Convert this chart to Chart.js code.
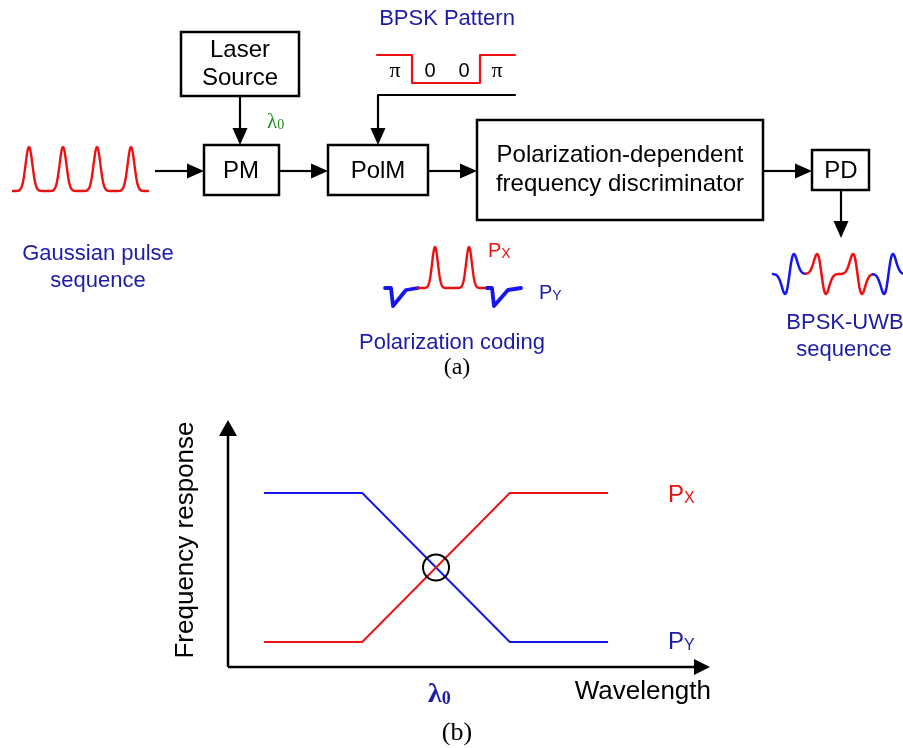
<!DOCTYPE html>
<html>
<head>
<meta charset="utf-8">
<script src="https://cdn.jsdelivr.net/npm/chart.js@4.4.0/dist/chart.umd.min.js"></script>
<style>
  html, body { margin: 0; padding: 0; background: #fff; }
  canvas { display: block; }
</style>
</head>
<body>
<canvas id="diagram" width="903" height="748"></canvas>
<script>
// Panel (b): frequency response of the discriminator
const wavelength = [0, 1, 2.5, 3.5];
const responsePx = [0, 0, 1, 1];
const responsePy = [1, 1, 0, 0];
const lambda0 = 1.75; // where the two responses cross

// Panel (a) sketches
const bpskPattern = ["π", "0", "0", "π"];
const pulseCount = 4;
const uwbPolarity = [-1, 1, 1, -1];

const RED = "#ee1111";
const BLUE = "#1515ee";
const NAVY = "#1c1ca6";
const GREEN = "#1c8c1c";
const SANS = "'Liberation Sans', Arial, sans-serif";
const SERIF = "'Liberation Serif', 'Times New Roman', serif";

function text(ctx, str, x, y, size, color, opts = {}) {
  ctx.save();
  ctx.font = `${opts.weight || "normal"} ${size}px ${opts.family || SANS}`;
  ctx.fillStyle = color;
  ctx.textAlign = opts.align || "center";
  ctx.textBaseline = "middle";
  ctx.fillText(str, x, y);
  ctx.restore();
}

function subLabel(ctx, main, sub, x, y, size, subSize, color, family = SANS, weight = "normal") {
  ctx.save();
  ctx.fillStyle = color;
  ctx.textAlign = "left";
  ctx.textBaseline = "alphabetic";
  ctx.font = `${weight} ${size}px ${family}`;
  const base = y + size * 0.36;
  ctx.fillText(main, x, base);
  const w = ctx.measureText(main).width;
  ctx.font = `${weight} ${subSize}px ${family}`;
  ctx.fillText(sub, x + w, base + size * 0.06);
  ctx.restore();
}

function box(ctx, x, y, w, h) {
  ctx.save();
  ctx.strokeStyle = "#000";
  ctx.lineWidth = 2.5;
  ctx.strokeRect(x, y, w, h);
  ctx.restore();
}

function arrow(ctx, x1, y1, x2, y2, len = 17, half = 7.5, width = 2.2) {
  const a = Math.atan2(y2 - y1, x2 - x1);
  const bx = x2 - len * Math.cos(a);
  const by = y2 - len * Math.sin(a);
  ctx.save();
  ctx.strokeStyle = "#000";
  ctx.fillStyle = "#000";
  ctx.lineWidth = width;
  ctx.beginPath();
  ctx.moveTo(x1, y1);
  ctx.lineTo(bx, by);
  ctx.stroke();
  ctx.beginPath();
  ctx.moveTo(x2, y2);
  ctx.lineTo(bx + half * Math.sin(a), by - half * Math.cos(a));
  ctx.lineTo(bx - half * Math.sin(a), by + half * Math.cos(a));
  ctx.closePath();
  ctx.fill();
  ctx.restore();
}

function polyline(ctx, pts, color, width) {
  ctx.save();
  ctx.strokeStyle = color;
  ctx.lineWidth = width;
  ctx.lineJoin = "round";
  ctx.lineCap = "round";
  ctx.beginPath();
  pts.forEach(([x, y], i) => (i ? ctx.lineTo(x, y) : ctx.moveTo(x, y)));
  ctx.stroke();
  ctx.restore();
}

// sketch of a gaussian pulse train
function gaussTrain(ctx, x0, x1, base, amp, centers, sigma, color) {
  const pts = [];
  for (let x = x0; x <= x1; x += 0.5) {
    let v = 0;
    centers.forEach((c) => (v += Math.exp(-((x - c) ** 2) / (2 * sigma * sigma))));
    pts.push([x, base - amp * v]);
  }
  polyline(ctx, pts, color, 2.4);
}

function drawPanelA(ctx) {
  // input pulses
  const centers = [];
  for (let k = 0; k < pulseCount; k++) centers.push(29 + 34 * k);
  gaussTrain(ctx, 13, 148, 191, 44, centers, 3.4, RED);
  text(ctx, "Gaussian pulse", 98, 254, 22, NAVY);
  text(ctx, "sequence", 98, 281, 22, NAVY);

  // laser + PM
  box(ctx, 181, 32, 118, 64);
  text(ctx, "Laser", 240, 50, 24, "#000");
  text(ctx, "Source", 240, 78, 24, "#000");
  arrow(ctx, 240, 96, 240, 145);
  subLabel(ctx, "λ", "0", 267, 120, 21, 14, GREEN, SERIF);
  arrow(ctx, 155, 171, 204, 171);
  box(ctx, 204, 145, 75, 50);
  text(ctx, "PM", 241, 171, 24, "#000");
  arrow(ctx, 279, 171, 328, 171);

  // BPSK pattern + PolM
  text(ctx, "BPSK Pattern", 447, 19, 22, NAVY);
  polyline(ctx, [[377, 55], [412, 55], [412, 83], [480, 83], [480, 55], [515, 55]], RED, 2.2);
  const labX = [395, 430, 464, 497];
  bpskPattern.forEach((s, i) => {
    text(ctx, s, labX[i], 71, s === "π" ? 22 : 20, "#000", { family: s === "π" ? SERIF : SANS });
  });
  polyline(ctx, [[515, 95], [378, 95]], "#000", 2.2);
  arrow(ctx, 378, 95, 378, 145);
  box(ctx, 328, 145, 100, 50);
  text(ctx, "PolM", 378, 171, 24, "#000");
  arrow(ctx, 428, 171, 477, 171);

  // polarization coding sketch
  polyline(ctx, [[385, 288], [391, 288], [393, 306], [406, 290], [418, 288]], BLUE, 3.8);
  gaussTrain(ctx, 418, 487, 288, 41, [435, 469], 2.9, RED);
  polyline(ctx, [[487, 288], [492, 288], [494, 306], [508, 290], [521, 288]], BLUE, 3.8);
  subLabel(ctx, "P", "X", 488, 250, 20, 14, RED);
  subLabel(ctx, "P", "Y", 539, 292, 20, 14, NAVY);
  text(ctx, "Polarization coding", 452, 343, 22, NAVY);

  // discriminator + PD
  box(ctx, 477, 120, 286, 100);
  text(ctx, "Polarization-dependent", 620, 155, 24, "#000");
  text(ctx, "frequency discriminator", 620, 184, 24, "#000");
  arrow(ctx, 763, 171, 812, 171);
  box(ctx, 812, 150, 57, 40);
  text(ctx, "PD", 841, 171, 24, "#000");
  arrow(ctx, 841, 190, 841, 238);

  // BPSK-UWB output: monocycles
  const uwbCenters = [789.5, 821.5, 857.5, 888.5];
  const s = 4.4;
  uwbCenters.forEach((c, i) => {
    const lo = i === 0 ? 773 : (uwbCenters[i - 1] + c) / 2;
    const hi = i === uwbCenters.length - 1 ? 905 : (uwbCenters[i + 1] + c) / 2;
    const pts = [];
    for (let x = lo; x <= hi; x += 0.5) {
      const t = x - c;
      pts.push([x, 274 + uwbPolarity[i] * 20 * (t / s) * Math.exp(0.5 - (t * t) / (2 * s * s))]);
    }
    polyline(ctx, pts, uwbPolarity[i] < 0 ? BLUE : RED, 2.5);
  });
  text(ctx, "BPSK-UWB", 845, 323, 22, NAVY);
  text(ctx, "sequence", 844, 350, 22, NAVY);

  text(ctx, "(a)", 457, 368, 24, "#000", { family: SERIF });
}

const diagramPlugin = {
  id: "diagram",
  afterDraw(chart) {
    const ctx = chart.ctx;
    const { left, right, top, bottom } = chart.chartArea;
    const xs = chart.scales.x;
    const ys = chart.scales.y;

    // axes with arrows
    arrow(ctx, left, bottom, left, top, 16, 9, 2.5);
    arrow(ctx, left, bottom, right, bottom, 16, 8, 2.5);

    // crossing marker
    ctx.save();
    ctx.strokeStyle = "#000";
    ctx.lineWidth = 2;
    ctx.beginPath();
    ctx.arc(xs.getPixelForValue(lambda0), ys.getPixelForValue(0.5), 13, 0, Math.PI * 2);
    ctx.stroke();
    ctx.restore();

    subLabel(ctx, "P", "X", 668, ys.getPixelForValue(1), 24, 16, RED);
    subLabel(ctx, "P", "Y", 668, ys.getPixelForValue(0) - 2, 24, 16, NAVY);
    subLabel(ctx, "λ", "0", xs.getPixelForValue(lambda0) - 8, 692, 28, 18, NAVY, SERIF, "bold");
    text(ctx, "Wavelength", right + 1, 692, 26, "#000", { align: "right" });

    ctx.save();
    ctx.translate(186, 540);
    ctx.rotate(-Math.PI / 2);
    text(ctx, "Frequency response", 0, 0, 26, "#000");
    ctx.restore();

    text(ctx, "(b)", 457, 733, 26, "#000", { family: SERIF });

    drawPanelA(ctx);
  },
};

new Chart(document.getElementById("diagram"), {
  type: "line",
  data: {
    datasets: [
      {
        label: "Px",
        data: wavelength.map((x, i) => ({ x, y: responsePx[i] })),
        borderColor: RED,
        borderWidth: 2,
        pointRadius: 0,
        tension: 0,
      },
      {
        label: "Py",
        data: wavelength.map((x, i) => ({ x, y: responsePy[i] })),
        borderColor: BLUE,
        borderWidth: 2,
        pointRadius: 0,
        tension: 0,
      },
    ],
  },
  options: {
    responsive: false,
    animation: false,
    devicePixelRatio: 1,
    layout: { padding: { left: 228, right: 193, top: 420, bottom: 81 } },
    plugins: { legend: { display: false }, tooltip: { enabled: false } },
    scales: {
      x: { type: "linear", min: -0.366, max: 4.537, display: false },
      y: { min: -0.168, max: 1.49, display: false },
    },
  },
  plugins: [diagramPlugin],
});
</script>
</body>
</html>
